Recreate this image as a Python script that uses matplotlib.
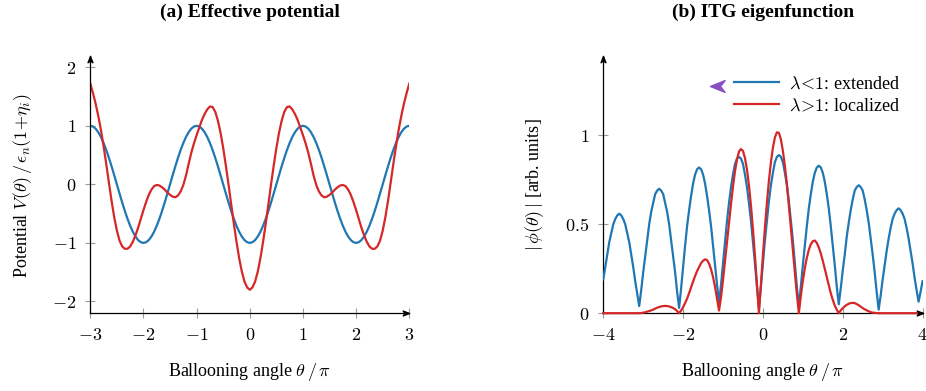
import matplotlib
matplotlib.use("Agg")
import matplotlib.pyplot as plt
import numpy as np
from matplotlib.path import Path

# ---- data ----
# (a) effective potential, theta/pi from -3 to 3 in steps of 0.05
theta_a = np.linspace(-3, 3, 121)
blue_a = [
    1.000, 0.988, 0.951, 0.891, 0.809, 0.707, 0.588, 0.454, 0.309, 0.156,
    0.000, -0.156, -0.309, -0.454, -0.588, -0.707, -0.809, -0.891, -0.951, -0.988,
    -1.000, -0.988, -0.951, -0.891, -0.809, -0.707, -0.588, -0.454, -0.309, -0.156,
    0.000, 0.156, 0.309, 0.454, 0.588, 0.707, 0.809, 0.891, 0.951, 0.988,
    1.000, 0.988, 0.951, 0.891, 0.809, 0.707, 0.588, 0.454, 0.309, 0.156,
    0.000, -0.156, -0.309, -0.454, -0.588, -0.707, -0.809, -0.891, -0.951, -0.988,
    -1.000, -0.988, -0.951, -0.891, -0.809, -0.707, -0.588, -0.454, -0.309, -0.156,
    0.000, 0.156, 0.309, 0.454, 0.588, 0.707, 0.809, 0.891, 0.951, 0.988,
    1.000, 0.988, 0.951, 0.891, 0.809, 0.707, 0.588, 0.454, 0.309, 0.156,
    0.000, -0.156, -0.309, -0.454, -0.588, -0.707, -0.809, -0.891, -0.951, -0.988,
    -1.000, -0.988, -0.951, -0.891, -0.809, -0.707, -0.588, -0.454, -0.309, -0.156,
    0.000, 0.156, 0.309, 0.454, 0.588, 0.707, 0.809, 0.891, 0.951, 0.988,
    1.000,
]
red_a = [
    1.72, 1.56, 1.38, 1.17, 0.93, 0.65, 0.35, 0.03, -0.28, -0.56,
    -0.79, -0.96, -1.06, -1.10, -1.10, -1.06, -0.98, -0.87, -0.74, -0.59,
    -0.44, -0.30, -0.18, -0.09, -0.03, -0.01, -0.02, -0.05, -0.09, -0.14,
    -0.18, -0.21, -0.22, -0.19, -0.12, -0.01, 0.15, 0.35, 0.54, 0.70,
    0.84, 0.97, 1.10, 1.20, 1.28, 1.33, 1.32, 1.24, 1.09, 0.88,
    0.62, 0.32, 0.00, -0.34, -0.67, -0.98, -1.26, -1.49, -1.66, -1.76,
    -1.80,
    -1.76, -1.66, -1.49, -1.26, -0.98, -0.67, -0.34, 0.00, 0.32, 0.62,
    0.88, 1.09, 1.24, 1.32, 1.33, 1.28, 1.20, 1.10, 0.97, 0.84,
    0.70, 0.54, 0.35, 0.15, -0.01, -0.12, -0.19, -0.22, -0.21, -0.18,
    -0.14, -0.09, -0.05, -0.02, -0.01, -0.03, -0.09, -0.18, -0.30, -0.44,
    -0.59, -0.74, -0.87, -0.98, -1.06, -1.10, -1.10, -1.06, -0.96, -0.79,
    -0.56, -0.28, 0.03, 0.35, 0.65, 0.93, 1.17, 1.38, 1.56, 1.72,
]

# (b) ITG eigenfunction, theta/pi from -4 to 4 in steps of 0.05
theta_b = np.linspace(-4, 4, 161)
blue_b = [
    0.19, 0.26, 0.33, 0.40, 0.45, 0.50, 0.53, 0.55, 0.56, 0.55,
    0.53, 0.50, 0.45, 0.40, 0.33, 0.26, 0.18, 0.11, 0.04,
    0.13, 0.23, 0.32, 0.41, 0.50, 0.57, 0.62, 0.67, 0.69, 0.70,
    0.69, 0.67, 0.62, 0.57, 0.50, 0.41, 0.32, 0.23, 0.12, 0.03,
    0.14, 0.26, 0.38, 0.49, 0.58, 0.66, 0.73, 0.78, 0.81, 0.82,
    0.81, 0.78, 0.73, 0.66, 0.58, 0.49, 0.38, 0.27, 0.16, 0.06,
    0.16, 0.28, 0.40, 0.52, 0.62, 0.71, 0.78, 0.84, 0.87, 0.88,
    0.87, 0.84, 0.78, 0.71, 0.62, 0.52, 0.40, 0.28, 0.15, 0.03,
    0.15, 0.28, 0.41, 0.52, 0.63, 0.72, 0.79, 0.85, 0.88, 0.89,
    0.88, 0.85, 0.79, 0.72, 0.63, 0.52, 0.41, 0.28, 0.15, 0.04,
    0.15, 0.27, 0.38, 0.49, 0.59, 0.67, 0.74, 0.79, 0.82, 0.83,
    0.82, 0.79, 0.74, 0.67, 0.59, 0.49, 0.38, 0.27, 0.15, 0.05,
    0.14, 0.24, 0.33, 0.43, 0.51, 0.58, 0.64, 0.69, 0.71, 0.72,
    0.71, 0.69, 0.64, 0.58, 0.51, 0.42, 0.33, 0.23, 0.12, 0.02,
    0.10, 0.19, 0.27, 0.35, 0.42, 0.48, 0.53, 0.56, 0.58, 0.59,
    0.58, 0.56, 0.53, 0.48, 0.42, 0.35, 0.28, 0.20, 0.13, 0.065,
    0.12, 0.18,
]
red_b = (
    [0.0] * 18
    + [0.000, 0.001, 0.003, 0.005, 0.009, 0.012, 0.016, 0.020, 0.026, 0.031,
       0.035, 0.038, 0.040, 0.041, 0.040, 0.038, 0.034, 0.029, 0.022, 0.012]
    + [0.000, 0.015, 0.034, 0.057, 0.082, 0.113, 0.146, 0.178, 0.209, 0.237,
       0.260, 0.282, 0.295, 0.303, 0.299, 0.279, 0.247, 0.204, 0.148, 0.080]
    + [0.015, 0.090, 0.188, 0.293, 0.400, 0.509, 0.615, 0.713, 0.799, 0.865,
       0.910, 0.924, 0.913, 0.873, 0.809, 0.718, 0.606, 0.472, 0.324, 0.165]
    + [0.000, 0.165, 0.328, 0.481, 0.623, 0.746, 0.849, 0.931, 0.989, 1.018,
       1.015, 0.978, 0.913, 0.829, 0.728, 0.608, 0.482, 0.354, 0.229, 0.109]
    + [0.000, 0.098, 0.182, 0.254, 0.312, 0.357, 0.388, 0.405, 0.409, 0.395,
       0.370, 0.336, 0.295, 0.249, 0.202, 0.156, 0.112, 0.075, 0.043, 0.020]
    + [0.000, 0.016, 0.028, 0.039, 0.047, 0.053, 0.057, 0.058, 0.057, 0.051,
       0.045, 0.037, 0.029, 0.022, 0.016, 0.011, 0.006, 0.003, 0.002, 0.001]
    + [0.0] * 23
)

xticks_a = [-3, -2, -1, 0, 1, 2, 3]
yticks_a = [-2, -1, 0, 1, 2]
xticks_b = [-4, -2, 0, 2, 4]
yticks_b = [0, 0.5, 1]
legend_labels = [r"$\lambda\!<\!1$: extended", r"$\lambda\!>\!1$: localized"]

BLUE = "#1f77b4"
RED = "#d62728"
PURPLE = "#8a4fc4"

plt.rcParams["font.family"] = ["Liberation Serif", "DejaVu Serif"]
plt.rcParams["mathtext.fontset"] = "cm"
plt.rcParams["font.size"] = 13

# stealth style arrow head, tip at the origin
arrow_right = Path([(0, 0), (-1.6, 0.62), (-1.15, 0), (-1.6, -0.62), (0, 0)],
                   [Path.MOVETO, Path.LINETO, Path.LINETO, Path.LINETO, Path.CLOSEPOLY])
arrow_up = Path([(0, 0), (-0.62, -1.6), (0, -1.15), (0.62, -1.6), (0, 0)],
                [Path.MOVETO, Path.LINETO, Path.LINETO, Path.LINETO, Path.CLOSEPOLY])
arrow_left = Path([(0, 0), (1.6, 0.65), (1.1, 0), (1.6, -0.65), (0, 0)],
                  [Path.MOVETO, Path.LINETO, Path.LINETO, Path.LINETO, Path.CLOSEPOLY])


def tick_labels(vals):
    return ["$%g$" % v if v >= 0 else "$-%g$" % abs(v) for v in vals]


def style_axes(ax):
    for s in ["top", "right"]:
        ax.spines[s].set_visible(False)
    for s in ["left", "bottom"]:
        ax.spines[s].set_linewidth(0.9)
        ax.spines[s].set_color("black")
    ax.tick_params(direction="inout", length=7, width=0.8, color="#9a9a9a",
                   labelsize=13, pad=6.5)
    # arrow heads at the ends of the axis lines
    ax.plot([1], [0], marker=arrow_right, ms=9, color="black",
            transform=ax.transAxes, clip_on=False, zorder=5)
    ax.plot([0], [1], marker=arrow_up, ms=9, color="black",
            transform=ax.transAxes, clip_on=False, zorder=5)


fig = plt.figure(figsize=(9.26, 3.91), dpi=100)
ax1 = fig.add_axes([0.0975, 0.199, 0.3445, 0.659])
ax2 = fig.add_axes([0.6515, 0.199, 0.3448, 0.659])

# ---- (a) Effective potential ----
ax1.plot(theta_a, blue_a, color=BLUE, lw=1.6)
ax1.plot(theta_a, red_a, color=RED, lw=1.6)
ax1.set_xlim(-3, 3)
ax1.set_ylim(-2.2, 2.2)
ax1.set_xticks(xticks_a, labels=tick_labels(xticks_a))
ax1.set_yticks(yticks_a, labels=tick_labels(yticks_a))
style_axes(ax1)
ax1.set_xlabel(r"Ballooning angle $\theta\,/\,\pi$", fontsize=13)
ax1.set_ylabel(r"Potential $V(\theta)\,/\,\epsilon_n(1\!+\!\eta_i)$", fontsize=13)
ax1.xaxis.set_label_coords(0.5, -0.185)
ax1.yaxis.set_label_coords(-0.178, 0.494)
ax1.set_title("(a) Effective potential", fontsize=14, fontweight="bold", pad=28)

# ---- (b) ITG eigenfunction ----
ax2.plot(theta_b, blue_b, color=BLUE, lw=1.6, label=legend_labels[0], zorder=3)
ax2.plot(theta_b, red_b, color=RED, lw=1.6, label=legend_labels[1], zorder=3,
         clip_on=False)
ax2.set_xlim(-4, 4)
ax2.set_ylim(0, 1.45)
ax2.set_xticks(xticks_b, labels=tick_labels(xticks_b))
ax2.set_yticks(yticks_b, labels=tick_labels(yticks_b))
style_axes(ax2)
ax2.set_xlabel(r"Ballooning angle $\theta\,/\,\pi$", fontsize=13)
ax2.set_ylabel(r"$|\,\phi(\theta)\,|$ [arb. units]", fontsize=13)
ax2.xaxis.set_label_coords(0.5, -0.185)
ax2.yaxis.set_label_coords(-0.178, 0.498)
ax2.set_title("(b) ITG eigenfunction", fontsize=14, fontweight="bold", pad=28)
ax2.legend(loc="upper right", bbox_to_anchor=(0.95, 0.95), frameon=False,
           handlelength=2.5, handletextpad=0.5, labelspacing=0.25,
           borderaxespad=0, fontsize=13)
# purple marker next to the legend
ax2.plot([0.334], [0.88], marker=arrow_left, ms=21, color=PURPLE,
         transform=ax2.transAxes, clip_on=False)

fig.savefig("out.png", dpi=100)
